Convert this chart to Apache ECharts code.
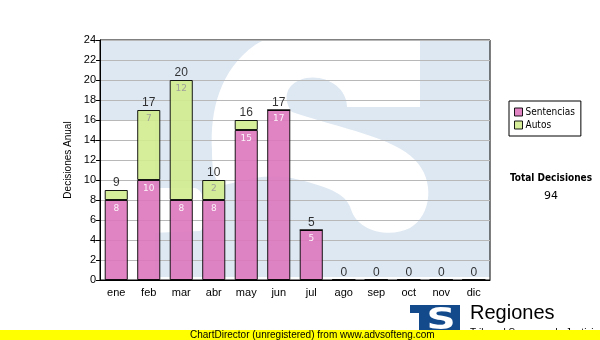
<!DOCTYPE html>
<html><head><meta charset="utf-8">
<script src="https://cdn.jsdelivr.net/npm/echarts@6/dist/echarts.min.js"></script>
<style>html,body{margin:0;padding:0;background:#fff}#c{width:600px;height:340px}</style>
</head><body><div id="c"></div>
<script>
const months = ['ene','feb','mar','abr','may','jun','jul','ago','sep','oct','nov','dic'];
const sentencias = [8,10,8,8,15,17,5,0,0,0,0,0];
const autos = [1,7,12,2,1,0,0,0,0,0,0,0];
const totals = [9,17,20,10,16,17,5,0,0,0,0,0];
const yTicks = {min:0, max:24, interval:2};
const totalDecisiones = 94;

const WM = '#dee8f2';
const sPathA = 'M212 150 C210 110 220 70 255 45 C290 22 380 20 420 38 L420 107 L347 107 C347 85 320 72 300 80 C285 86 283 100 292 112 C340 128 395 138 415 160 C435 180 432 215 410 228 C390 238 360 232 352 212 C348 198 340 190 300 180 C260 170 235 185 222 185 C213 180 212 165 212 150 Z';
const sPathB = 'M150 188 L195 188 C207 190 210 225 200 231 L150 233 Z';
echarts.graphic.registerShape('wmSA', echarts.graphic.extendPath(sPathA, {}));
echarts.graphic.registerShape('wmSB', echarts.graphic.extendPath(sPathB, {}));

const chart = echarts.init(document.getElementById('c'), null, {renderer:'canvas'});
chart.setOption({
  animation:false,
  backgroundColor:'#fff',
  textStyle:{fontFamily:'"Liberation Sans", Arial, sans-serif'},
  grid:{left:100, right:110, top:40, bottom:60, show:true, borderColor:'#000', borderWidth:1, backgroundColor:'transparent'},
  legend:{
    orient:'vertical', left:509, top:101, data:['Sentencias','Autos'],
    borderColor:'#000', borderWidth:1, padding:[6,6,6,5],
    itemWidth:8, itemHeight:8, itemGap:3, icon:'rect',
    itemStyle:{borderColor:'#000', borderWidth:1},
    textStyle:{fontSize:10, fontFamily:'"DejaVu Sans Condensed","DejaVu Sans"', color:'#000', padding:[0,0,0,-2]}
  },
  xAxis:{
    type:'category', data:months,
    axisLine:{lineStyle:{color:'#000', width:1}},
    axisTick:{alignWithLabel:true, length:4, lineStyle:{color:'#000'}},
    axisLabel:{color:'#000', fontSize:11, margin:7}
  },
  yAxis:{
    type:'value', min:yTicks.min, max:yTicks.max, interval:yTicks.interval,
    name:'Decisiones Anual', nameLocation:'middle', nameGap:27, nameRotate:90,
    nameTextStyle:{fontSize:10, color:'#000'},
    axisLine:{show:true, lineStyle:{color:'#000', width:1}},
    axisTick:{show:true, length:4, lineStyle:{color:'#000'}},
    axisLabel:{color:'#000', fontSize:11, margin:4},
    splitLine:{lineStyle:{color:'#b8b8b8', width:1}}
  },
  graphic:[
    {type:'group', z:-100, silent:true, children:[
      {type:'rect', z:-100, shape:{x:100, y:40, width:390, height:237}, style:{fill:WM}},
      {type:'rect', z:-99, shape:{x:100, y:120, width:55, height:161}, style:{fill:'#fff'}},
      {type:'wmSA', z:-98, style:{fill:'#fff'}},
      {type:'wmSB', z:-98, style:{fill:'#fff'}},
      {type:'rect', z:-97, shape:{x:90, y:0, width:510, height:39.5}, style:{fill:'#fff'}}
    ]},
    {type:'text', z:10, x:551, y:178, style:{text:'Total Decisiones', x:0, y:0, align:'center', verticalAlign:'middle', textAlign:'center', textVerticalAlign:'middle', font:'bold 10px "DejaVu Sans Condensed","DejaVu Sans"', fill:'#000'}},
    {type:'text', z:10, x:551, y:196, style:{text:String(totalDecisiones), x:0, y:0, align:'center', verticalAlign:'middle', textAlign:'center', textVerticalAlign:'middle', font:'11px "DejaVu Sans"', fill:'#000'}},
    {type:'rect', z:10, shape:{x:410, y:305, width:50, height:8}, style:{fill:'#124a8c'}},
    {type:'rect', z:10, shape:{x:419, y:305, width:41, height:30}, style:{fill:'#124a8c'}},
    {type:'text', z:11, x:441, y:321, scaleX:1.35, style:{text:'S', x:0, y:0, align:'center', verticalAlign:'middle', textAlign:'center', textVerticalAlign:'middle', font:'bold 30px "DejaVu Sans"', fill:'#fff'}},
    {type:'text', z:10, x:470, y:303, style:{text:'Regiones', x:0, y:0, font:'20px "Liberation Sans"', fill:'#000', verticalAlign:'top', textVerticalAlign:'top'}},
    {type:'text', z:10, x:470, y:328, style:{text:'Tribunal Supremo de Justicia', x:0, y:0, font:'10px "Liberation Sans"', fill:'#000', verticalAlign:'top', textVerticalAlign:'top'}},
    {type:'rect', z:20, shape:{x:0, y:330, width:600, height:10}, style:{fill:'#ffff00'}},
    {type:'text', z:21, x:190, y:335, style:{text:'ChartDirector (unregistered) from www.advsofteng.com', x:0, y:0, font:'10px "Liberation Sans"', fill:'#000', verticalAlign:'middle', textVerticalAlign:'middle'}}
  ],
  series:[
    {name:'Sentencias', type:'bar', stack:'t', data:sentencias, barWidth:'71%',
      itemStyle:{color:'#dd77bd', opacity:0.9, borderColor:'#000', borderWidth:1},
      label:{show:true, position:'insideTop', distance:4, color:'#fff', fontSize:9, fontFamily:'"DejaVu Sans"',
        formatter:p=>p.value>=2?String(p.value):''}},
    {name:'Autos', type:'bar', stack:'t', data:autos,
      itemStyle:{color:'#d2ec8e', opacity:0.9, borderColor:'#000', borderWidth:1},
      label:{show:true, position:'insideTop', distance:4, color:'#999', fontSize:9, fontFamily:'"DejaVu Sans"',
        formatter:p=>p.value>=2?String(p.value):''}},
    {name:'Total', type:'scatter', data:totals, symbolSize:1, silent:true, z:5,
      itemStyle:{color:'rgba(0,0,0,0)'},
      label:{show:true, position:'top', distance:1, color:'#000', fontSize:12, formatter:p=>String(p.value)}}
  ]
});
</script></body></html>
